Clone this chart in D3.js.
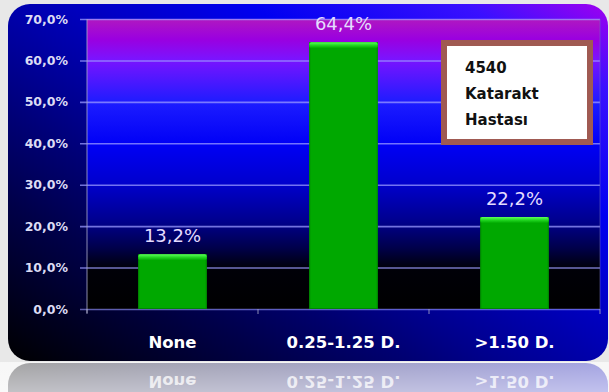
<!DOCTYPE html>
<html>
<head>
<meta charset="utf-8">
<script src="https://cdn.jsdelivr.net/npm/d3@7"></script>
<style>
  html, body { margin: 0; padding: 0; background: #e8e8e8; }
  svg { display: block; }
</style>
</head>
<body>
<svg id="chart" width="609" height="392"></svg>
<script>
// Refraction groups and the share of cataract patients in each
const categories = ["None", "0.25-1.25 D.", ">1.50 D."];
const values = [13.2, 64.4, 22.2];
const valueLabels = ["13,2%", "64,4%", "22,2%"];
const yTicks = [0, 10, 20, 30, 40, 50, 60, 70];
const legendLines = ["4540", "Katarakt", "Hastası"];

const W = 609, H = 392;
const frame = { x: 8, y: 4, w: 600, h: 357, r: 22 };
const plot = { left: 87, right: 600, top: 19, bottom: 309 };

const svg = d3.select("#chart");
const defs = svg.append("defs");

// Frame background: dark at lower left, violet at upper right
const fg = defs.append("linearGradient").attr("id", "frameGrad")
  .attr("x1", 0).attr("y1", 1).attr("x2", 1).attr("y2", 0);
[[0, "#000000"], [0.22, "#000048"], [0.45, "#00009c"], [0.7, "#0000f0"], [0.88, "#3a10ff"], [1, "#a000f0"]]
  .forEach(([o, c]) => fg.append("stop").attr("offset", o).attr("stop-color", c));

// Plot area: magenta at the top through blue to black
const pg = defs.append("linearGradient").attr("id", "plotGrad")
  .attr("x1", 0).attr("y1", 0).attr("x2", 0).attr("y2", 1);
[[0, "#b018c0"], [0.07, "#9a00e0"], [0.14, "#7a14ff"], [0.29, "#1c1cff"], [0.43, "#0000f6"],
 [0.57, "#0000cc"], [0.7, "#00008c"], [0.79, "#00004a"], [0.86, "#000008"], [1, "#000000"]]
  .forEach(([o, c]) => pg.append("stop").attr("offset", o).attr("stop-color", c));

// Bar top bevel highlight
const bg = defs.append("linearGradient").attr("id", "barTop")
  .attr("x1", 0).attr("y1", 0).attr("x2", 0).attr("y2", 1);
[[0, "#5cff5c"], [0.5, "#22d822"], [1, "#00aa00"]]
  .forEach(([o, c]) => bg.append("stop").attr("offset", o).attr("stop-color", c));

// Reflection fade
const rg = defs.append("linearGradient").attr("id", "reflFade")
  .attr("x1", 0).attr("y1", 0).attr("x2", 0).attr("y2", 1);
[[0, 0.64], [1, 0.76]]
  .forEach(([o, a]) => rg.append("stop").attr("offset", o).attr("stop-color", "#ffffff").attr("stop-opacity", a));

defs.append("clipPath").attr("id", "reflClip")
  .append("rect").attr("x", 0).attr("y", frame.y + frame.h + 1).attr("width", W).attr("height", H);

// Main frame
svg.append("rect")
  .attr("x", frame.x).attr("y", frame.y).attr("width", frame.w).attr("height", frame.h)
  .attr("rx", frame.r).attr("fill", "url(#frameGrad)");

// Reflection of the frame below, washed out toward white
const mirrorY = frame.y + frame.h + 1;
const refl = svg.append("g").attr("clip-path", "url(#reflClip)");
const reflInner = refl.append("g").attr("transform", `translate(0,${2 * mirrorY}) scale(1,-1)`);
reflInner.append("rect")
  .attr("x", frame.x).attr("y", frame.y).attr("width", frame.w).attr("height", frame.h)
  .attr("rx", frame.r).attr("fill", "url(#frameGrad)");
refl.append("rect").attr("x", 0).attr("y", mirrorY).attr("width", W).attr("height", H - mirrorY)
  .attr("fill", "url(#reflFade)");

// Plot area
svg.append("rect")
  .attr("x", plot.left).attr("y", plot.top)
  .attr("width", plot.right - plot.left).attr("height", plot.bottom - plot.top)
  .attr("fill", "url(#plotGrad)");

const x = d3.scaleBand().domain(categories)
  .range([plot.left, plot.right]).paddingInner(0.6).paddingOuter(0.3);
const y = d3.scaleLinear().domain([0, 70]).range([plot.bottom, plot.top]);

// Y axis with gridlines
const yAxis = svg.append("g").attr("transform", `translate(${plot.left},0)`)
  .call(d3.axisLeft(y).tickValues(yTicks)
    .tickFormat(d => d.toFixed(1).replace(".", ",") + "%")
    .tickSizeInner(-(plot.right - plot.left)).tickSizeOuter(0).tickPadding(19));
yAxis.select(".domain").remove();
yAxis.selectAll(".tick line")
  .attr("x1", -7)
  .attr("stroke", "#9a9aff").attr("stroke-opacity", d => d === 0 ? 0.6 : 0.75)
  .attr("stroke-width", 1.6);
yAxis.selectAll(".tick text")
  .attr("fill", "#dcdcf4")
  .attr("font-family", "DejaVu Sans").attr("font-weight", "bold").attr("font-size", 12.5);

// Vertical axis line
svg.append("line")
  .attr("x1", plot.left).attr("x2", plot.left).attr("y1", plot.top).attr("y2", plot.bottom + 4)
  .attr("stroke", "#a8a8c8").attr("stroke-opacity", 0.7).attr("stroke-width", 1.2);
svg.append("line")
  .attr("x1", plot.right).attr("x2", plot.right).attr("y1", plot.top).attr("y2", plot.bottom)
  .attr("stroke", "#7070c0").attr("stroke-opacity", 0.5).attr("stroke-width", 1);

// Category boundary ticks on the x axis
const bounds = d3.range(categories.length + 1).map(i => plot.left + i * x.step());
svg.append("g").selectAll("line").data(bounds).join("line")
  .attr("x1", d => d).attr("x2", d => d)
  .attr("y1", plot.bottom).attr("y2", plot.bottom + 5)
  .attr("stroke", "#a8a8c8").attr("stroke-opacity", 0.7).attr("stroke-width", 1.2);

// X axis labels
const xAxis = svg.append("g").attr("transform", `translate(0,${plot.bottom})`)
  .call(d3.axisBottom(x).tickSize(0).tickPadding(27));
xAxis.select(".domain").remove();
xAxis.selectAll(".tick text")
  .attr("fill", "#ffffff")
  .attr("font-family", "DejaVu Sans").attr("font-weight", "bold").attr("font-size", 16.5);

// Mirrored x labels in the reflection
const reflLabels = svg.append("g").attr("clip-path", "url(#reflClip)")
  .append("g").attr("transform", `translate(0,${2 * mirrorY}) scale(1,-1)`);
reflLabels.selectAll("text").data(categories).join("text")
  .attr("x", d => x(d) + x.bandwidth() / 2)
  .attr("y", plot.bottom + 27).attr("dy", "0.71em")
  .attr("text-anchor", "middle")
  .attr("fill", "#ffffff").attr("fill-opacity", 0.75)
  .attr("font-family", "DejaVu Sans").attr("font-weight", "bold").attr("font-size", 16.5)
  .text(d => d);

// Bars
const bars = svg.append("g");
bars.selectAll("rect.bar").data(values).join("rect")
  .attr("class", "bar")
  .attr("x", (d, i) => x(categories[i])).attr("width", x.bandwidth())
  .attr("y", d => y(d)).attr("height", d => y(0) - y(d))
  .attr("fill", "#00a800");
bars.selectAll("rect.edge").data(values).join("rect")
  .attr("class", "edge")
  .attr("x", (d, i) => x(categories[i]) + 0.5).attr("width", x.bandwidth() - 1)
  .attr("y", d => y(d) + 0.5).attr("height", d => y(0) - y(d) - 1)
  .attr("fill", "none").attr("stroke", "#008a00").attr("stroke-width", 1);
bars.selectAll("rect.top").data(values).join("rect")
  .attr("class", "top")
  .attr("x", (d, i) => x(categories[i])).attr("width", x.bandwidth())
  .attr("y", d => y(d)).attr("height", 6).attr("rx", 2)
  .attr("fill", "url(#barTop)");

// Value labels
svg.append("g").selectAll("text").data(values).join("text")
  .attr("x", (d, i) => x(categories[i]) + x.bandwidth() / 2)
  .attr("y", d => y(d) - 12)
  .attr("text-anchor", "middle")
  .attr("fill", "#e4dcff")
  .attr("font-family", "DejaVu Sans").attr("font-size", 18)
  .text((d, i) => valueLabels[i]);

// Legend note box
const lg = svg.append("g");
lg.append("rect")
  .attr("x", 444).attr("y", 43).attr("width", 146).attr("height", 99)
  .attr("fill", "#ffffff").attr("stroke", "#a05a52").attr("stroke-width", 6);
lg.selectAll("text").data(legendLines).join("text")
  .attr("x", 465).attr("y", (d, i) => 73 + i * 26)
  .attr("fill", "#111111")
  .attr("font-family", "DejaVu Sans").attr("font-weight", "bold").attr("font-size", 15)
  .text(d => d);
</script>
</body>
</html>
